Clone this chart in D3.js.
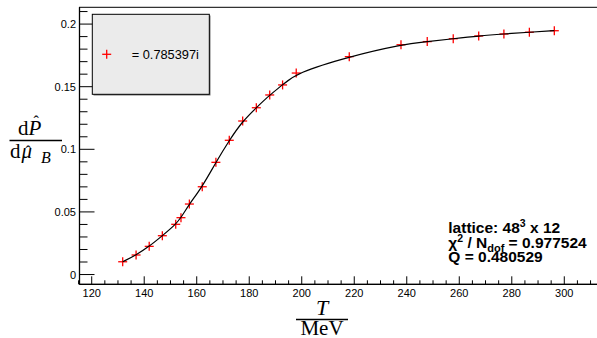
<!DOCTYPE html>
<html>
<head>
<meta charset="utf-8">
<script src="https://cdn.jsdelivr.net/npm/d3@7"></script>
<style>
  html, body { margin: 0; padding: 0; background: #fff; }
  svg { display: block; }
  .tick-label { font-family: "Liberation Sans", Arial, sans-serif; font-size: 11px; fill: #000; }
  .math { font-family: "Liberation Serif", "DejaVu Serif", serif; fill: #000; }
  .info { font-family: "Liberation Sans", Arial, sans-serif; font-size: 15.5px; font-weight: bold; fill: #000; }
</style>
</head>
<body>
<svg id="chart" width="597" height="338"></svg>
<script>
// Temperatures (MeV) of the measured points
const temperatures = [131.8, 136.9, 141.9, 146.9, 152.0, 154.0, 157.2, 162.1, 167.3, 172.4,
                      177.5, 182.7, 187.8, 192.7, 197.9, 218.1, 237.8, 247.8, 257.7, 267.4,
                      277.0, 286.7, 296.2];
// dP/dmu_B at each temperature
const derivValues = [0.0102, 0.0156, 0.0225, 0.0310, 0.0401, 0.0454, 0.0563, 0.0701, 0.0896, 0.1072,
                     0.1226, 0.1332, 0.1434, 0.1514, 0.1609, 0.1740, 0.1835, 0.1860, 0.1883, 0.1905,
                     0.1921, 0.1935, 0.1947];
const xTicks = [120, 140, 160, 180, 200, 220, 240, 260, 280, 300];
const yTicks = [0, 0.05, 0.1, 0.15, 0.2];
const legendLabel = "= 0.785397i";

const svg = d3.select("#chart");

const frame = { left: 79.5, right: 600, top: 7.3, bottom: 284.3 };
const x = d3.scaleLinear().domain([115.35, 313.6]).range([frame.left, frame.right]);
const y = d3.scaleLinear().domain([-0.0078, 0.2134]).range([frame.bottom, frame.top]);

// frame
svg.append("rect")
  .attr("x", frame.left).attr("y", frame.top)
  .attr("width", frame.right - frame.left).attr("height", frame.bottom - frame.top)
  .attr("fill", "none").attr("stroke", "#000").attr("stroke-width", 1);

// x axis ticks (pointing into the frame)
const xMinor = d3.range(115, 314, 5);
const gx = svg.append("g");
gx.selectAll("line").data(xMinor).join("line")
  .attr("x1", d => x(d)).attr("x2", d => x(d))
  .attr("y1", frame.bottom).attr("y2", d => frame.bottom - (d % 20 === 0 ? 8 : 4))
  .attr("stroke", "#000").attr("stroke-width", 1);
gx.selectAll("text").data(xTicks).join("text")
  .attr("class", "tick-label")
  .attr("x", d => x(d)).attr("y", 297)
  .attr("text-anchor", "middle")
  .text(d => d);

// y axis ticks
const yMinor = d3.range(0, 0.2134, 0.01).map(v => Math.round(v * 100) / 100);
const gy = svg.append("g");
gy.selectAll("line").data(yMinor).join("line")
  .attr("x1", frame.left).attr("x2", d => frame.left + (Math.round(d * 100) % 5 === 0 ? 15 : 8))
  .attr("y1", d => y(d)).attr("y2", d => y(d))
  .attr("stroke", "#000").attr("stroke-width", 1);
gy.selectAll("text").data(yTicks).join("text")
  .attr("class", "tick-label")
  .attr("x", 76).attr("y", d => y(d) + 4)
  .attr("text-anchor", "end")
  .text(d => d);

// axis lines slightly heavier
svg.append("line").attr("x1", frame.left).attr("x2", frame.left)
  .attr("y1", frame.top).attr("y2", frame.bottom).attr("stroke", "#000").attr("stroke-width", 1.3);
svg.append("line").attr("x1", frame.left).attr("x2", frame.right)
  .attr("y1", frame.bottom).attr("y2", frame.bottom).attr("stroke", "#000").attr("stroke-width", 1.3);

// data points
const pts = temperatures.map((t, i) => ({ t, v: derivValues[i] }));
const ms = 4.5;
const gm = svg.append("g").attr("stroke", "#ff0000").attr("stroke-width", 1.3);
gm.selectAll("g").data(pts).join("g")
  .attr("transform", d => `translate(${x(d.t)},${y(d.v)})`)
  .each(function () {
    d3.select(this).append("line").attr("x1", -ms).attr("x2", ms).attr("y1", 0).attr("y2", 0);
    d3.select(this).append("line").attr("x1", 0).attr("x2", 0).attr("y1", -ms).attr("y2", ms);
  });

// smooth fitted curve
const line = d3.line().x(d => x(d.t)).y(d => y(d.v)).curve(d3.curveBasis);
svg.append("path").datum(pts).attr("d", line)
  .attr("fill", "none").attr("stroke", "#000").attr("stroke-width", 1.2);

// legend
const lg = svg.append("g");
lg.append("rect").attr("x", 93.5).attr("y", 15.5).attr("width", 117).attr("height", 80).attr("fill", "#777");
lg.append("rect").attr("x", 92.3).attr("y", 14.3).attr("width", 117).attr("height", 80)
  .attr("fill", "#ebebeb").attr("stroke", "#000").attr("stroke-width", 1);
const lm = lg.append("g").attr("transform", "translate(106.7,54.3)")
  .attr("stroke", "#ff0000").attr("stroke-width", 1.3);
lm.append("line").attr("x1", -ms).attr("x2", ms);
lm.append("line").attr("y1", -ms).attr("y2", ms);
lg.append("text").attr("class", "tick-label").style("font-size", "12.8px")
  .attr("x", 131.7).attr("y", 58.6).text(legendLabel);

// y title: dP^/dmu^_B
const yt = svg.append("g").attr("class", "math");
yt.append("text").attr("x", 18).attr("y", 135).style("font-size", "21px").text("d");
yt.append("text").attr("x", 28.5).attr("y", 135).style("font-size", "21px").style("font-style", "italic").text("P");
yt.append("text").attr("x", 33.5).attr("y", 127).style("font-size", "16px").text("ˆ");
yt.append("line").attr("x1", 9.5).attr("x2", 62).attr("y1", 140.5).attr("y2", 140.5)
  .attr("stroke", "#000").attr("stroke-width", 1.6);
yt.append("text").attr("x", 10).attr("y", 158).style("font-size", "21px").text("d");
yt.append("text").attr("x", 21.5).attr("y", 158).style("font-size", "21px").style("font-style", "italic").text("μ");
yt.append("text").attr("x", 25.5).attr("y", 156.5).style("font-size", "16px").text("ˆ");
yt.append("text").attr("x", 41).attr("y", 163).style("font-size", "16px").style("font-style", "italic").text("B");

// x title: T / MeV
const xt = svg.append("g").attr("class", "math");
xt.append("text").attr("x", 322).attr("y", 315).attr("text-anchor", "middle")
  .style("font-size", "22px").style("font-style", "italic").text("T");
xt.append("line").attr("x1", 296).attr("x2", 348).attr("y1", 319.5).attr("y2", 319.5)
  .attr("stroke", "#000").attr("stroke-width", 1.6);
xt.append("text").attr("x", 322).attr("y", 334.5).attr("text-anchor", "middle")
  .style("font-size", "21px").text("MeV");

// fit info
const info = svg.append("g").attr("class", "info");
const t1 = info.append("text").attr("x", 448.3).attr("y", 233.3);
t1.append("tspan").text("lattice: 48");
t1.append("tspan").attr("dy", -6).style("font-size", "10.5px").text("3");
t1.append("tspan").attr("dy", 6).text(" x 12");
const t2 = info.append("text").attr("x", 448.3).attr("y", 247.5);
t2.append("tspan").text("χ");
t2.append("tspan").attr("dy", -6).style("font-size", "10.5px").text("2");
t2.append("tspan").attr("dy", 6).text(" / N");
t2.append("tspan").attr("dy", 4).style("font-size", "11px").text("dof");
t2.append("tspan").attr("dy", -4).text(" = 0.977524");
info.append("text").attr("x", 448.3).attr("y", 261.5).text("Q = 0.480529");
</script>
</body>
</html>
